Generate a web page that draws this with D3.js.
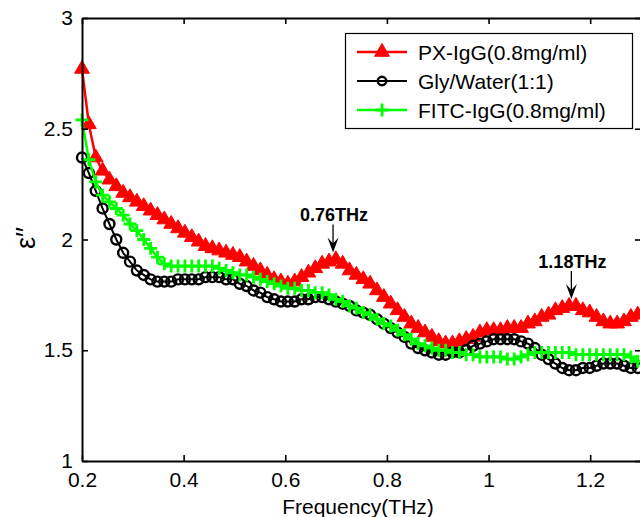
<!DOCTYPE html>
<html><head><meta charset="utf-8">
<script src="https://cdn.jsdelivr.net/npm/d3@7"></script>
<style>
html,body{margin:0;padding:0;background:#fff;}
svg{display:block;}
text{font-family:"Liberation Sans",Arial,Helvetica,sans-serif;}
</style></head>
<body>
<svg id="chart" width="640" height="517"></svg>
<script>
const freqs = [0.2000,0.2135,0.2270,0.2405,0.2540,0.2675,0.2810,0.2945,0.3080,0.3215,
0.3350,0.3485,0.3620,0.3755,0.3890,0.4025,0.4160,0.4295,0.4430,0.4565,
0.4700,0.4835,0.4970,0.5105,0.5240,0.5375,0.5510,0.5645,0.5780,0.5915,
0.6050,0.6185,0.6320,0.6455,0.6590,0.6725,0.6860,0.6995,0.7130,0.7265,
0.7400,0.7535,0.7670,0.7805,0.7940,0.8075,0.8210,0.8345,0.8480,0.8615,
0.8750,0.8885,0.9020,0.9155,0.9290,0.9425,0.9560,0.9695,0.9830,0.9965,
1.0100,1.0235,1.0370,1.0505,1.0640,1.0775,1.0910,1.1045,1.1180,1.1315,
1.1450,1.1585,1.1720,1.1855,1.1990,1.2125,1.2260,1.2395,1.2530,1.2665,
1.2800,1.2935];

const pxIgG = [2.77,2.52,2.37,2.31,2.27,2.24,2.21,2.19,2.17,2.15,
2.13,2.11,2.09,2.07,2.05,2.03,2.01,1.99,1.97,1.96,
1.95,1.94,1.93,1.92,1.90,1.88,1.86,1.84,1.82,1.81,
1.80,1.81,1.83,1.85,1.87,1.89,1.90,1.91,1.89,1.86,
1.84,1.82,1.80,1.77,1.74,1.71,1.68,1.65,1.62,1.60,
1.58,1.56,1.54,1.53,1.53,1.54,1.55,1.56,1.58,1.59,
1.59,1.59,1.60,1.60,1.60,1.62,1.63,1.65,1.66,1.68,
1.69,1.70,1.70,1.68,1.67,1.65,1.63,1.62,1.62,1.63,
1.65,1.66];

const glyWater = [2.37,2.30,2.22,2.14,2.07,2.00,1.94,1.90,1.86,1.84,
1.82,1.81,1.81,1.81,1.82,1.82,1.82,1.82,1.83,1.83,
1.83,1.82,1.82,1.80,1.79,1.77,1.76,1.74,1.73,1.72,
1.72,1.72,1.73,1.73,1.74,1.74,1.73,1.72,1.71,1.70,
1.68,1.67,1.66,1.64,1.62,1.60,1.58,1.56,1.53,1.51,
1.50,1.49,1.48,1.48,1.49,1.49,1.50,1.52,1.53,1.54,
1.55,1.55,1.55,1.55,1.54,1.53,1.51,1.48,1.46,1.44,
1.42,1.41,1.41,1.42,1.42,1.43,1.44,1.44,1.44,1.43,
1.42,1.42];

const fitcIgG = [2.54,2.36,2.26,2.20,2.17,2.14,2.11,2.07,2.04,2.00,
1.96,1.92,1.89,1.88,1.88,1.88,1.88,1.88,1.88,1.88,
1.87,1.86,1.85,1.84,1.84,1.83,1.82,1.81,1.80,1.79,
1.78,1.78,1.77,1.77,1.76,1.76,1.75,1.73,1.72,1.70,
1.69,1.67,1.66,1.64,1.62,1.61,1.59,1.57,1.55,1.53,
1.52,1.51,1.50,1.50,1.49,1.49,1.48,1.48,1.47,1.47,
1.47,1.47,1.46,1.46,1.47,1.48,1.49,1.49,1.49,1.49,
1.49,1.49,1.48,1.48,1.48,1.48,1.48,1.48,1.48,1.48,
1.47,1.45];

const seriesNames = ["PX-IgG(0.8mg/ml)", "Gly/Water(1:1)", "FITC-IgG(0.8mg/ml)"];
const xTicks = [0.2, 0.4, 0.6, 0.8, 1, 1.2];
const xTickLabels = ["0.2", "0.4", "0.6", "0.8", "1", "1.2"];
const yTicks = [1, 1.5, 2, 2.5, 3];
const yTickLabels = ["1", "1.5", "2", "2.5", "3"];
const peakFreqs = [0.694, 1.163];
const peakValues = [1.91, 1.70];
const peakLabels = ["0.76THz", "1.18THz"];

const svg = d3.select("#chart");
const L = 82, R = 641, T = 18, B = 461;
const x = d3.scaleLinear().domain([0.2, 1.3]).range([L, R]);
const y = d3.scaleLinear().domain([1, 3]).range([B, T]);

const series = [
  {name: seriesNames[0], values: pxIgG, color: "#ff0000", marker: "tri", lw: 2.5},
  {name: seriesNames[1], values: glyWater, color: "#000000", marker: "circle", lw: 2},
  {name: seriesNames[2], values: fitcIgG, color: "#00ff00", marker: "plus", lw: 2.5}
];

const line = d3.line().x(d => x(d[0])).y(d => y(d[1]));

function drawMarker(g, type, color, cx, cy, scale) {
  scale = scale || 1;
  if (type === "tri") {
    g.append("path").attr("d", d3.symbol().type(d3.symbolTriangle).size(95 * scale * scale)())
      .attr("transform", `translate(${cx},${cy})`).attr("fill", color).attr("stroke", color).attr("stroke-width", 1);
  } else if (type === "circle") {
    g.append("circle").attr("cx", cx).attr("cy", cy).attr("r", 5 * scale)
      .attr("fill", "none").attr("stroke", color).attr("stroke-width", 2.4);
  } else {
    const a = 6.5 * scale;
    g.append("path").attr("d", `M${cx - a},${cy}H${cx + a}M${cx},${cy - a}V${cy + a}`)
      .attr("stroke", color).attr("stroke-width", 2.8).attr("fill", "none");
  }
}

const plot = svg.append("g");
series.forEach(s => {
  const pts = freqs.map((f, i) => [f, s.values[i]]);
  const g = plot.append("g");
  g.append("path").datum(pts).attr("d", line).attr("fill", "none")
    .attr("stroke", s.color).attr("stroke-width", s.lw).attr("stroke-linejoin", "round");
  pts.forEach(p => drawMarker(g, s.marker, s.color, x(p[0]), y(p[1])));
});

// axes
const axStyle = g => {
  g.selectAll("path.domain").attr("stroke", "#000").attr("stroke-width", 2);
  g.selectAll(".tick line").attr("stroke", "#000").attr("stroke-width", 1.6);
  g.selectAll("text").attr("font-size", 21).attr("fill", "#000")
    .attr("font-family", "'Liberation Sans', Arial, sans-serif");
};
svg.append("g").attr("transform", `translate(0,${B})`)
  .call(d3.axisBottom(x).tickValues(xTicks).tickFormat((d, i) => xTickLabels[i]).tickSize(-6).tickSizeOuter(0).tickPadding(11))
  .call(axStyle);
svg.append("g").attr("transform", `translate(0,${T})`)
  .call(d3.axisTop(x).tickValues(xTicks).tickFormat("").tickSize(-6).tickSizeOuter(0))
  .call(axStyle);
svg.append("g").attr("transform", `translate(${L},0)`)
  .call(d3.axisLeft(y).tickValues(yTicks).tickFormat((d, i) => yTickLabels[i]).tickSize(-6).tickSizeOuter(0).tickPadding(9))
  .call(axStyle);
svg.append("g").attr("transform", `translate(${R},0)`)
  .call(d3.axisRight(y).tickValues(yTicks).tickFormat("").tickSize(-6).tickSizeOuter(0))
  .call(axStyle);
svg.selectAll(".domain").attr("fill", "none");

// axis titles
svg.append("text").attr("x", 358).attr("y", 514).attr("text-anchor", "middle")
  .attr("font-size", 21).text("Frequency(THz)");
svg.append("text").attr("transform", "translate(35,238) rotate(-90)").attr("text-anchor", "middle")
  .attr("font-size", 27).text("ε′′");

// peak annotations
peakFreqs.forEach((f, i) => {
  const px = x(f), py = y(peakValues[i]);
  const g = svg.append("g");
  g.append("text").attr("x", px + 1).attr("y", py - 38).attr("text-anchor", "middle")
    .attr("font-size", 18).attr("font-weight", "bold").text(peakLabels[i]);
  g.append("line").attr("x1", px).attr("x2", px).attr("y1", py - 35).attr("y2", py - 14)
    .attr("stroke", "#000").attr("stroke-width", 1.3);
  g.append("path").attr("d", `M${px - 5.5},${py - 22}L${px},${py - 7}L${px + 5.5},${py - 22}L${px},${py - 16}Z`)
    .attr("fill", "#000");
});

// legend
const lg = svg.append("g");
lg.append("rect").attr("x", 345.5).attr("y", 33.5).attr("width", 287).attr("height", 95)
  .attr("fill", "#fff").attr("stroke", "#000").attr("stroke-width", 1.2);
series.forEach((s, i) => {
  const ly = 52 + i * 29;
  lg.append("line").attr("x1", 357).attr("x2", 407).attr("y1", ly).attr("y2", ly)
    .attr("stroke", s.color).attr("stroke-width", s.lw);
  drawMarker(lg, s.marker, s.color, 382, ly, s.marker === "circle" ? 0.85 : 1);
  lg.append("text").attr("x", 418).attr("y", ly + 7.5).attr("font-size", 21).text(s.name);
});
</script>
</body></html>
